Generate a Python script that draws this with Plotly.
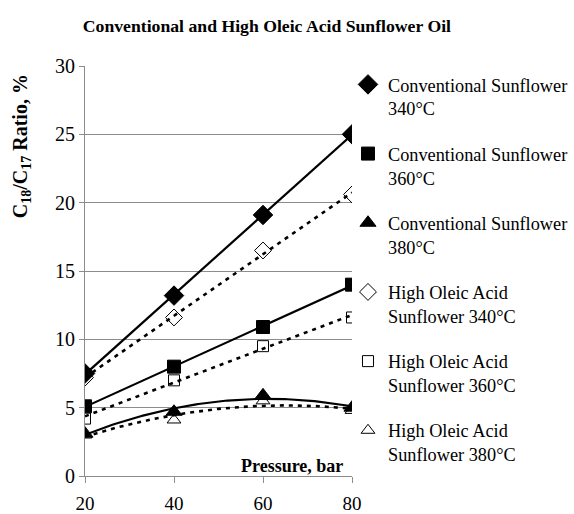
import numpy as np
import plotly.graph_objects as go

# Pressure (bar) and C18/C17 ratio (%) for each oil / temperature
pressure = [20, 40, 60, 80]

conv_340 = [7.5, 13.2, 19.1, 25.0]
conv_360 = [5.1, 8.0, 10.9, 14.0]
conv_380 = [3.1, 4.7, 5.9, 5.0]
hoa_340 = [7.2, 11.6, 16.5, 20.6]
hoa_360 = [4.2, 7.0, 9.5, 11.6]
hoa_380 = [3.0, 4.1, 5.5, 4.8]

series = [
    ("Conventional Sunflower<br>340°C", conv_340, "diamond", 1, "solid"),
    ("Conventional Sunflower<br>360°C", conv_360, "square", 1, "solid"),
    ("Conventional Sunflower<br>380°C", conv_380, "triangle-up", 2, "solid"),
    ("High Oleic Acid<br>Sunflower 340°C", hoa_340, "diamond-open", 1, "dot"),
    ("High Oleic Acid<br>Sunflower 360°C", hoa_360, "square-open", 1, "dot"),
    ("High Oleic Acid<br>Sunflower 380°C", hoa_380, "triangle-up-open", 2, "dot"),
]

SERIF = "Liberation Serif, Times New Roman, serif"
fig = go.Figure()

# markers (legend entries)
for i, (name, vals, sym, deg, style) in enumerate(series):
    filled = not sym.endswith("open")
    size = {"diamond": 15, "square": 13, "triangle-up": 14}[sym.replace("-open", "")]
    if not filled:
        size -= 2
    fig.add_trace(go.Scatter(
        x=pressure, y=vals, mode="markers", name=name,
        legendgroup=f"g{i}",
        marker=dict(symbol=sym, size=size, color="black",
                    line=dict(color="black", width=1)),
    ))

# trendlines: linear for 340/360 °C, quadratic for 380 °C
xs = np.linspace(20, 80, 121)
for name, vals, sym, deg, style in series:
    coef = np.polyfit(pressure, vals, deg)
    fig.add_trace(go.Scatter(
        x=xs, y=np.polyval(coef, xs), mode="lines", showlegend=False,
        hoverinfo="skip",
        line=dict(color="black", width=2.2 if style == "solid" else 2.6,
                  dash="solid" if style == "solid" else "4px,5px"),
    ))

fig.update_layout(
    width=574, height=514,
    margin=dict(l=85, r=222, t=66, b=38, autoexpand=False),
    paper_bgcolor="white", plot_bgcolor="white",
    font=dict(family=SERIF, size=19, color="black"),
    title=dict(text="<b>Conventional and High Oleic Acid Sunflower Oil</b>",
               x=0.465, xanchor="center", y=0.95, yanchor="middle",
               font=dict(family=SERIF, size=17.7, color="black")),
    showlegend=True,
    legend=dict(x=0.985, xanchor="left", y=1.0, yanchor="top",
                valign="top", tracegroupgap=18.6, itemwidth=30,
                maxheight=514,
                font=dict(family=SERIF, size=18.3, color="black"),
                bgcolor="rgba(0,0,0,0)"),
    xaxis=dict(range=[20, 80], tickvals=pressure, ticktext=[str(p) for p in pressure],
               showgrid=False, zeroline=False, showline=True,
               linecolor="#8c8c8c", linewidth=1,
               ticks="outside", ticklen=6, tickcolor="#8c8c8c",
               ticklabelstandoff=4, automargin=False,
               tickfont=dict(family=SERIF, size=19)),
    yaxis=dict(range=[0, 30], dtick=5, showgrid=True, gridcolor="#8c8c8c",
               gridwidth=1, zeroline=False, showline=True,
               linecolor="#8c8c8c", linewidth=1,
               ticks="outside", ticklen=5, tickcolor="#8c8c8c",
               automargin=False, tickfont=dict(family=SERIF, size=20)),
    annotations=[
        dict(text="<b>C<sub>18</sub>/C<sub>17</sub> Ratio, %</b>",
             xref="paper", yref="paper", x=-0.235, y=0.805,
             xanchor="center", yanchor="middle", textangle=-90,
             showarrow=False, font=dict(family=SERIF, size=20)),
        dict(text="<b>Pressure, bar</b>", xref="paper", yref="paper",
             x=0.975, y=0.025, xanchor="right", yanchor="middle",
             showarrow=False, font=dict(family=SERIF, size=18)),
    ],
)

fig.write_html("out.html")
